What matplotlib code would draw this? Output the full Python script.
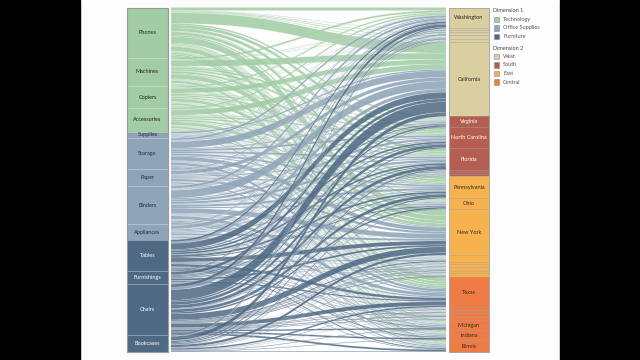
import matplotlib.pyplot as plt
from matplotlib.path import Path
from matplotlib.patches import PathPatch, Rectangle
from matplotlib.colors import to_rgba

plt.rcParams['font.family'] = ['Lato', 'DejaVu Sans']

# Dimension 1: product sub-categories (top to bottom)
subcategories = ['Phones', 'Machines', 'Copiers', 'Accessories',
                 'Supplies', 'Storage', 'Paper', 'Binders', 'Appliances',
                 'Tables', 'Furnishings', 'Chairs', 'Bookcases']
subcat_group = ['Technology'] * 4 + ['Office Supplies'] * 5 + ['Furniture'] * 4

# Dimension 2: states (top to bottom) and their region
states = ['Washington', 'Oregon', 'Nevada', 'Utah', 'Arizona', 'Colorado', 'California',
          'Virginia', 'North Carolina', 'Florida', 'Georgia', 'Tennessee', 'Kentucky',
          'Pennsylvania', 'Ohio', 'New York', 'New Jersey', 'Delaware', 'Maryland',
          'Massachusetts', 'Connecticut', 'Rhode Island',
          'Texas', 'Wisconsin', 'Minnesota', 'Missouri', 'Oklahoma',
          'Michigan', 'Indiana', 'Illinois']
state_region = ['West'] * 7 + ['South'] * 6 + ['East'] * 9 + ['Central'] * 8

# flow size per state, one value per sub-category (same order as subcategories)
flows = {
    'Washington':     [3.0, 1.8, 1.3, 1.5, .4, 1.9, 1.0, 2.3, 1.0, 1.8, .9, 3.0, 1.1],
    'Oregon':         [.4, 0, 0, 0, 0, .5, 0, .5, 0, 0, 0, .6, 0],
    'Nevada':         [0, .5, 0, .5, 0, 0, .4, 0, 0, .6, 0, 0, 0],
    'Utah':           [.6, 0, .4, 0, 0, 0, 0, .5, .4, 0, 0, .7, .4],
    'Arizona':        [.7, .4, 0, .4, 0, .5, 0, .5, 0, .5, .3, .7, 0],
    'Colorado':       [.5, 0, .3, 0, 0, .4, .3, .4, 0, .4, 0, .5, .2],
    'California':     [10.7, 6.2, 4.7, 5.2, 1.5, 6.7, 3.6, 7.9, 3.4, 6.4, 3.0, 10.7, 4.0],
    'Virginia':       [1.6, .9, .7, .8, .2, 1.0, .5, 1.2, .5, 1.0, .5, 1.6, .6],
    'North Carolina': [3.0, 1.8, 1.3, 1.5, .4, 1.9, 1.0, 2.3, 1.0, 1.8, .9, 3.0, 1.1],
    'Florida':        [3.2, 1.8, 1.4, 1.5, .4, 2.0, 1.1, 2.4, 1.0, 1.9, .9, 3.2, 1.1],
    'Georgia':        [.4, .3, 0, 0, 0, 0, 0, .4, 0, .4, 0, .5, 0],
    'Tennessee':      [0, 0, .3, .3, 0, .4, 0, 0, .3, 0, .3, .4, 0],
    'Kentucky':       [.4, 0, 0, 0, .2, 0, .3, .3, 0, .3, 0, .3, .2],
    'Pennsylvania':   [3.0, 2.0, 1.3, 1.6, .8, 1.9, 1.2, 2.3, 1.1, 2.0, .8, 3.0, 1.0],
    'Ohio':           [1.5, 1.0, .7, .8, .2, 1.0, .6, 1.2, .5, 1.0, .4, 1.6, .5],
    'New York':       [6.7, 4.6, 2.9, 3.2, .9, 4.1, 2.3, 4.9, 2.1, 4.0, 1.9, 6.0, 2.4],
    'New Jersey':     [1.0, .6, .5, .5, .1, .6, .4, .8, .3, .6, .3, 1.0, .3],
    'Delaware':       [.4, .3, 0, 0, 0, .3, 0, .4, 0, .2, 0, .4, 0],
    'Maryland':       [.5, 0, .4, .3, 0, 0, .3, .4, .2, 0, 0, .5, .4],
    'Massachusetts':  [.6, .4, 0, .4, 0, .5, 0, .5, .2, .5, .3, .6, 0],
    'Connecticut':    [.3, 0, .3, 0, 0, 0, .3, .3, 0, .3, 0, .5, 0],
    'Rhode Island':   [.6, .4, .3, 0, 0, .5, 0, .4, .3, .4, 0, .7, .4],
    'Texas':          [4.4, 2.5, 1.9, 2.1, 1.0, 2.7, 1.5, 3.2, 1.4, 2.6, 1.2, 4.0, 1.5],
    'Wisconsin':      [.5, .3, 0, .3, 0, .4, 0, .4, 0, .4, .2, .5, 0],
    'Minnesota':      [.4, 0, .3, .3, 0, 0, .3, .4, .3, 0, 0, .6, .4],
    'Missouri':       [.6, .4, .3, 0, .1, .5, 0, .5, 0, .5, .4, .7, 0],
    'Oklahoma':       [.5, 0, 0, .4, 0, 0, .4, .4, .3, .3, 0, .5, .2],
    'Michigan':       [1.5, .8, .6, .7, .2, .9, .5, 1.1, .5, .9, .4, 1.4, .5],
    'Indiana':        [1.4, .9, .7, .7, .2, .9, .5, 1.0, .4, .9, .4, 1.5, .5],
    'Illinois':       [1.7, 1.0, .8, .8, .2, 1.1, .6, 1.3, .6, 1.0, .5, 1.8, .6],
}

dim1_legend = ['Technology', 'Office Supplies', 'Furniture']
dim2_legend = ['West', 'South', 'East', 'Central']

cat_colors = {'Technology': '#a1cca4', 'Office Supplies': '#8ea4b8', 'Furniture': '#4e6984'}
reg_colors = {'West': '#d9cfa1', 'South': '#b65d51', 'East': '#f6b24f', 'Central': '#ef7c45'}
cat_text = {'Technology': '#222222', 'Office Supplies': '#2a2a3a', 'Furniture': 'white'}
reg_text = {'West': '#2a2a2a', 'South': 'white', 'East': '#2a2a2a', 'Central': '#3a2a20'}


def mix(c, other='#a0a0a0', t=0.5):
    a, b = to_rgba(c), to_rgba(other)
    return tuple(a[i] * (1 - t) + b[i] * t for i in range(3))


fig = plt.figure(figsize=(6.4, 3.6), dpi=100)
fig.patch.set_facecolor('#fdfdfd')
ax = fig.add_axes([0, 0, 1, 1])
ax.set_xlim(0, 640)
ax.set_ylim(360, 0)
ax.axis('off')

# dark margins of the screenshot
ax.add_patch(Rectangle((0, 0), 80, 360, color='black', zorder=0))
ax.add_patch(Rectangle((560, 0), 80, 360, color='black', zorder=0))

top, bottom = 7.5, 352.0
lx0, lx1 = 127, 168     # left column
rx0, rx1 = 449, 489     # right column
fx0, fx1 = 171, 446     # ribbons

n_sub = len(subcategories)
sub_tot = [sum(flows[s][i] for s in states) for i in range(n_sub)]
state_tot = [sum(flows[s]) for s in states]
total = sum(sub_tot)
k = (bottom - top) / total

left_y, y = [], top
for v in sub_tot:
    left_y.append(y)
    y += v * k
right_y, y = [], top
for v in state_tot:
    right_y.append(y)
    y += v * k

# ribbons
rcur = list(right_y)
xm = (fx0 + fx1) / 2
for i, sub in enumerate(subcategories):
    lcur = left_y[i]
    col = to_rgba(cat_colors[subcat_group[i]], 0.86)
    for j, st in enumerate(states):
        v = flows[st][i]
        if v <= 0:
            continue
        h = v * k
        a0, a1 = lcur, lcur + h
        b0, b1 = rcur[j], rcur[j] + h
        lcur += h
        rcur[j] += h
        verts = [(fx0, a0), (xm, a0), (xm, b0), (fx1, b0),
                 (fx1, b1), (xm, b1), (xm, a1), (fx0, a1), (fx0, a0)]
        codes = [Path.MOVETO, Path.CURVE4, Path.CURVE4, Path.CURVE4,
                 Path.LINETO, Path.CURVE4, Path.CURVE4, Path.CURVE4, Path.CLOSEPOLY]
        ax.add_patch(PathPatch(Path(verts, codes), facecolor=col,
                               edgecolor=(1, 1, 1, 0.4), lw=0.18, zorder=2))

# left column
for i, sub in enumerate(subcategories):
    g = subcat_group[i]
    h = sub_tot[i] * k
    ax.add_patch(Rectangle((lx0, left_y[i]), lx1 - lx0, h, facecolor=cat_colors[g],
                           edgecolor=mix(cat_colors[g], 'white', 0.35), lw=0.6, zorder=3))
    ax.text((lx0 + lx1) / 2, left_y[i] + h / 2, sub, fontsize=4, color=cat_text[g],
            ha='center', va='center', zorder=4)
ax.add_patch(Rectangle((lx0, top), lx1 - lx0, bottom - top, fill=False,
                       edgecolor='#9a9a9a', lw=0.8, zorder=5))

# right column
for j, st in enumerate(states):
    r = state_region[j]
    h = state_tot[j] * k
    ax.add_patch(Rectangle((rx0, right_y[j]), rx1 - rx0, h, facecolor=reg_colors[r],
                           edgecolor=mix(reg_colors[r]), lw=0.6, zorder=3))
    if h > 8:
        ax.text((rx0 + rx1) / 2, right_y[j] + h / 2, st, fontsize=4, color=reg_text[r],
                ha='center', va='center', zorder=4)
ax.add_patch(Rectangle((rx0, top), rx1 - rx0, bottom - top, fill=False,
                       edgecolor='#a8a8a8', lw=0.6, zorder=5))

# legend
def legend_block(y0, title, names, colors):
    ax.text(493, y0, title, fontsize=4, color='#444444', ha='left', va='center')
    for n, name in enumerate(names):
        yy = y0 + 8.5 * (n + 1)
        ax.add_patch(Rectangle((494, yy - 2.6), 5.2, 5.2, facecolor=colors[name],
                               edgecolor='#8a8a8a', lw=0.4))
        ax.text(503, yy, name, fontsize=4, color='#555555', ha='left', va='center')

legend_block(11, 'Dimension 1', dim1_legend, cat_colors)
legend_block(48, 'Dimension 2', dim2_legend, reg_colors)

fig.savefig('out.png', dpi=100, facecolor=fig.get_facecolor())
